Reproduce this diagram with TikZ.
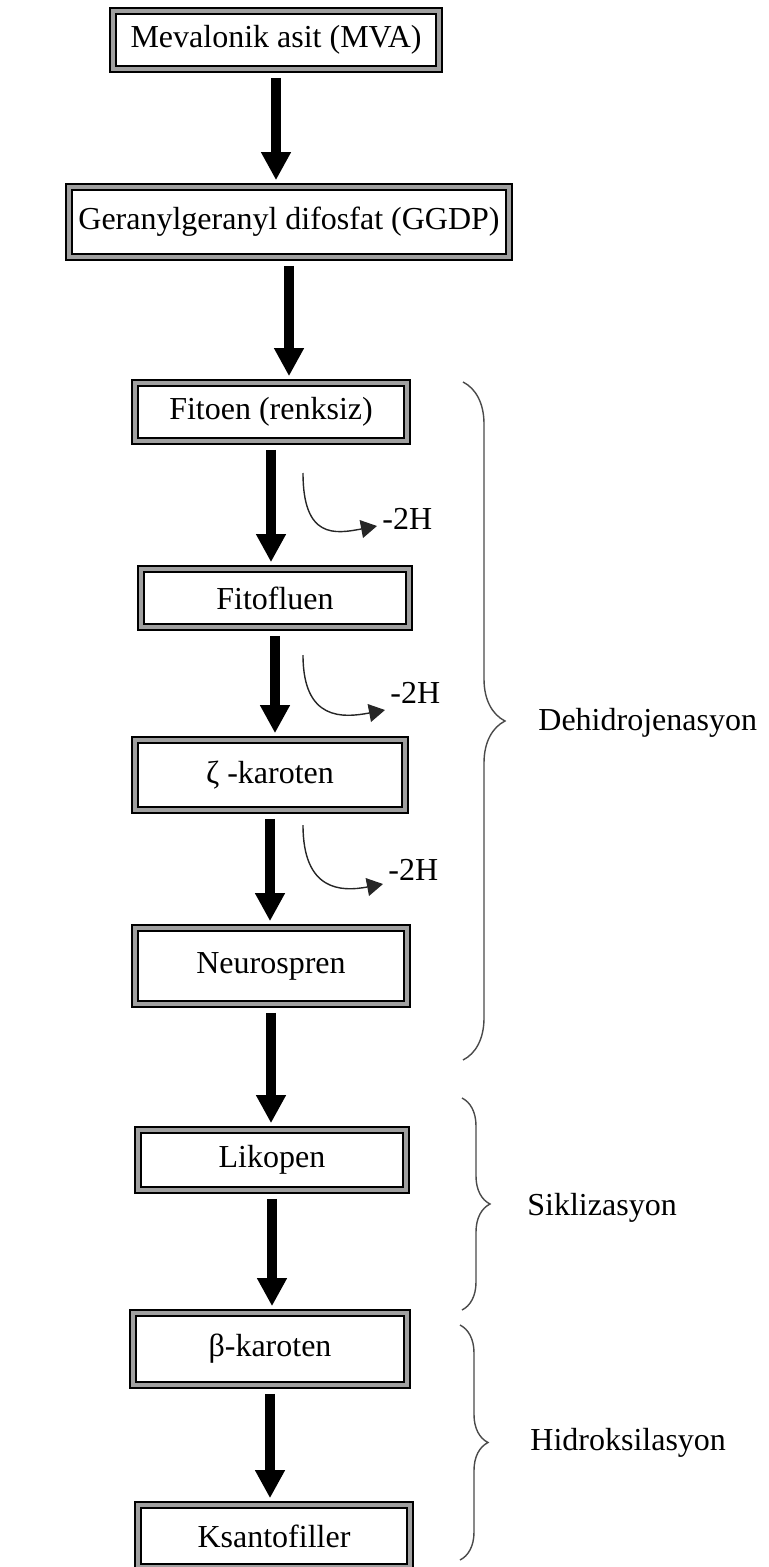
\documentclass[tikz,border=0pt]{standalone}
\usepackage{fontspec}
\setmainfont{Liberation Serif}
\usetikzlibrary{arrows.meta, positioning, calc, decorations.pathreplacing}
\definecolor{boxgray}{HTML}{A0A0A0}
\definecolor{bracegray}{HTML}{4A4A4A}

\begin{document}
\begin{tikzpicture}[x=0.5pt, y=-0.5pt,
    stepbox/.style={draw=black, line width=0.8pt, double=boxgray, double distance=2pt,
      inner sep=0pt, font=\fontsize{16}{19}\selectfont},
    flow/.style={line width=5pt, -{Triangle[width=14pt,length=14pt]}, shorten <=4pt, shorten >=3pt},
    loss/.style={line width=0.7pt, black!85, -{Triangle[width=9pt,length=8pt]}},
    lbl/.style={font=\fontsize{16}{19}\selectfont, inner sep=0pt, anchor=west},
    grp/.style={decorate, decoration={brace, amplitude=#1}, line width=0.7pt, bracegray}]
  \useasboundingbox (0,0) rectangle (768,1567);
  % pathway boxes
  \foreach \name/\x/\y/\w/\h/\txt in {
      mva/276/40/163/29/{Mevalonik asit (MVA)},
      ggdp/289/222/220/35/{Geranylgeranyl difosfat (GGDP)},
      fitoen/271/412/136/29/{Fitoen (renksiz)},
      fitofluen/275/598/134/29/{Fitofluen},
      zeta/270/775/135/35/{ζ -karoten},
      neuro/271/966/136/38/{Neurospren},
      liko/272/1160/134/30/{Likopen},
      beta/270/1349/137/36/{β-karoten},
      ksanto/274/1536/136/31/{Ksantofiller}}{
    \node[stepbox, minimum width=\w pt, minimum height=\h pt] (\name) at (\x,\y) {\txt};
  }
  \foreach \a/\b in {mva/ggdp, ggdp/fitoen, fitoen/fitofluen, fitofluen/zeta,
      zeta/neuro, neuro/liko, liko/beta, beta/ksanto}{
    \draw[flow] (\a.south) -- (\a.south |- \b.north);
  }
  % -2H losses
  \foreach \i/\ys/\ye/\xl/\yl in {1/473/526/382/519, 2/655/710/390/693, 3/825/884/388/870}{
    \coordinate (h\i s) at (303,\ys);
    \coordinate (h\i e) at (\xl-5,\ye);
    \node[lbl] (h\i) at (\xl,\yl) {-2H};
    \draw[loss] (h\i s) .. controls +(0,66) and +(-42,8) .. (h\i e);
  }
  % braces
  \coordinate (d1) at (463,382);
  \coordinate (d2) at (463,1060);
  \draw[grp=21pt] (d1) -- (d2);
  \node[lbl] (dehidro) at (538,723) {Dehidrojenasyon};
  \coordinate (s1) at (462,1098);
  \coordinate (s2) at (462,1310);
  \draw[grp=14pt] (s1) -- (s2);
  \node[lbl] (sikli) at (527,1208) {Siklizasyon};
  \coordinate (k1) at (460,1325);
  \coordinate (k2) at (460,1560);
  \draw[grp=14pt] (k1) -- (k2);
  \node[lbl] (hidro) at (530,1443) {Hidroksilasyon};
\end{tikzpicture}
\end{document}
